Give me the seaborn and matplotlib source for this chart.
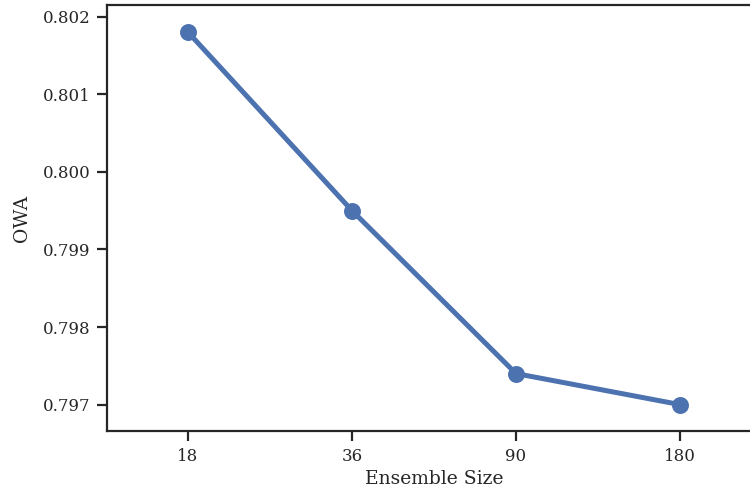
import pandas as pd
import numpy as np
import matplotlib
matplotlib.use("Agg")
import matplotlib.pyplot as plt
import seaborn as sns

# Values
ensemble_size = ['18', '36', '90', '180']
owa = [0.8018, 0.7995, 0.7974, 0.7970]

df = pd.DataFrame({'Ensemble Size': ensemble_size, 'OWA': owa})

sns.set_theme(style="ticks", palette="deep")
plt.rcParams['font.family'] = ['DejaVu Serif']

fig = plt.figure(figsize=(7.5, 4.93), dpi=100)
ax = fig.add_axes([0.1427, 0.1258, 0.872, 0.864])
sns.pointplot(data=df, x='Ensemble Size', y='OWA', order=ensemble_size,
              color='#4C72B0', linewidth=3.6, markersize=9.5, ax=ax)
ax.set_ylim(0.79666, 0.80215)
ax.set_xlim(-0.494, 3.494)
ax.set_yticks([0.797, 0.798, 0.799, 0.800, 0.801, 0.802])
ax.set_yticklabels(['0.797', '0.798', '0.799', '0.800', '0.801', '0.802'])
ax.tick_params(labelsize=12, length=7, width=1.6, pad=5)
for s in ax.spines.values():
    s.set_linewidth(1.6)
ax.set_xlabel('Ensemble Size', fontsize=13.5)
ax.set_ylabel('OWA', fontsize=13.5, labelpad=8)

fig.savefig('out.png', dpi=100)
